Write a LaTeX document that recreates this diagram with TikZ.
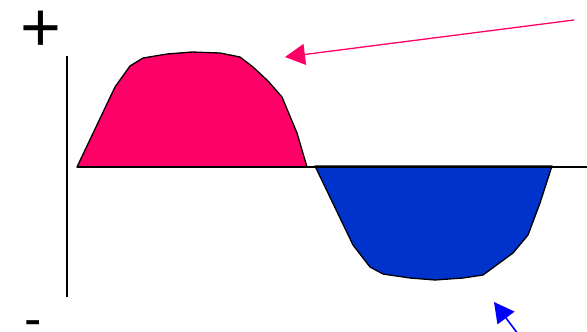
\documentclass[tikz,border=0pt]{standalone}
\usepackage{fontspec}
\setmainfont{Liberation Sans}
\usetikzlibrary{arrows.meta}
\definecolor{posfill}{RGB}{255,0,102}
\definecolor{negfill}{RGB}{0,51,204}
\definecolor{negline}{RGB}{0,0,255}
\begin{document}
\begin{tikzpicture}[x=1pt, y=-1pt, >={Triangle[length=20pt,width=21pt]}, wave/.style={draw=black,line width=1.3pt,line join=round}, sign/.style={inner sep=0pt,font=\fontsize{70}{70}\selectfont}]
\useasboundingbox (0,0) rectangle (587,332);
\node[sign] (plus) at (41,31) {+};
\node[sign,font=\fontsize{52}{52}\selectfont] (minus) at (33,329) {-};
\fill[posfill,wave] (77,167) -- (115,87) -- (130,66) -- (143,58) -- (167,54) -- (192,52) -- (220,53) -- (240,57) -- (253,67) -- (268,81) -- (282,97) -- (297,133) -- (307,167) -- cycle;
\fill[negfill,wave] (315,166) -- (353,245) -- (370,267) -- (383,274) -- (410,278) -- (435,280) -- (463,278) -- (483,275) -- (513,253) -- (528,235) -- (540,203) -- (552,166) -- cycle;
\draw[line width=1.3pt] (67,56) -- (67,297);
\draw[line width=1.8pt] (77,167) -- (587,167);
\coordinate (postail) at (574,20);
\coordinate (postip) at (285,57);
\coordinate (negtail) at (518,334);
\coordinate (negtip) at (494,302);
\draw[->,posfill,line width=1.3pt] (postail) -- (postip);
\draw[->,negline,line width=1.6pt] (negtail) -- (negtip);
\end{tikzpicture}
\end{document}
